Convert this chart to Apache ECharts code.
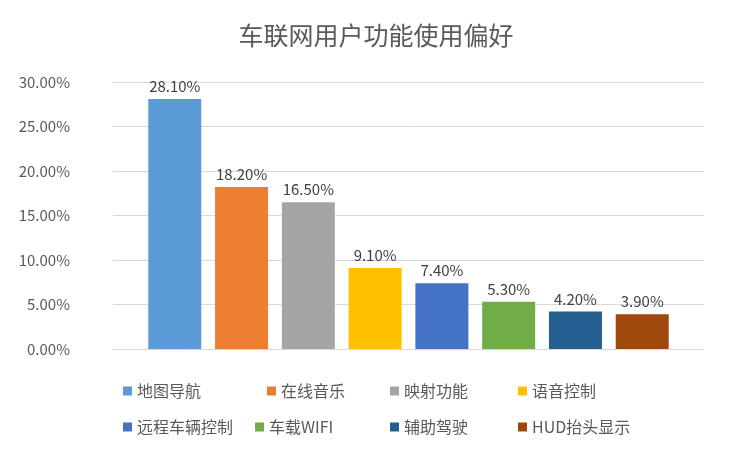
<!DOCTYPE html>
<html><head><meta charset="utf-8">
<script src="https://cdn.jsdelivr.net/npm/echarts@6/dist/echarts.min.js"></script>
<style>html,body{margin:0;padding:0;background:#fff}#c{width:752px;height:452px}</style>
</head><body><div id="c"></div>
<script>
const names = ['地图导航','在线音乐','映射功能','语音控制','远程车辆控制','车载WIFI','辅助驾驶','HUD抬头显示'];
const values = [28.1,18.2,16.5,9.1,7.4,5.3,4.2,3.9];
const colors = ['#5B9BD5','#ED7D31','#A5A5A5','#FFC000','#4472C4','#70AD47','#255E91','#9E480E'];
const legendPos = [[118,387],[262,387],[385,387],[513,387],[118,423],[250,423],[385,423],[513,423]];
const font = 'Microsoft YaHei, "Noto Sans CJK SC", sans-serif';
const chart = echarts.init(document.getElementById('c'));
chart.setOption({
  animation:false,
  title:{text:'车联网用户功能使用偏好',left:'center',top:18,textStyle:{fontSize:25,fontWeight:'normal',color:'#595959',fontFamily:font}},
  legend: names.map((n,i)=>({data:[n],left:legendPos[i][0],top:legendPos[i][1]-9,itemWidth:9,itemHeight:9,itemGap:4,icon:'rect',
    textStyle:{fontSize:16,color:'#595959',fontFamily:font}})),
  grid:{left:113,right:48,top:82,bottom:103},
  xAxis:{type:'category',data:[''],axisTick:{show:false},axisLabel:{show:false},axisLine:{lineStyle:{color:'#D9D9D9'}}},
  yAxis:{type:'value',min:0,max:30,interval:5,
    axisLabel:{formatter:v=>v.toFixed(2)+'%',fontSize:15,color:'#595959',margin:43,fontFamily:font},
    splitLine:{lineStyle:{color:'#D9D9D9'}},axisLine:{show:false},axisTick:{show:false}},
  series: names.map((n,i)=>({name:n,type:'bar',data:[values[i]],barWidth:53,barGap:'26%',
    itemStyle:{color:colors[i]},
    label:{show:true,position:'top',formatter:p=>p.value.toFixed(2)+'%',fontSize:15,color:'#404040',fontFamily:font}}))
});
</script></body></html>
